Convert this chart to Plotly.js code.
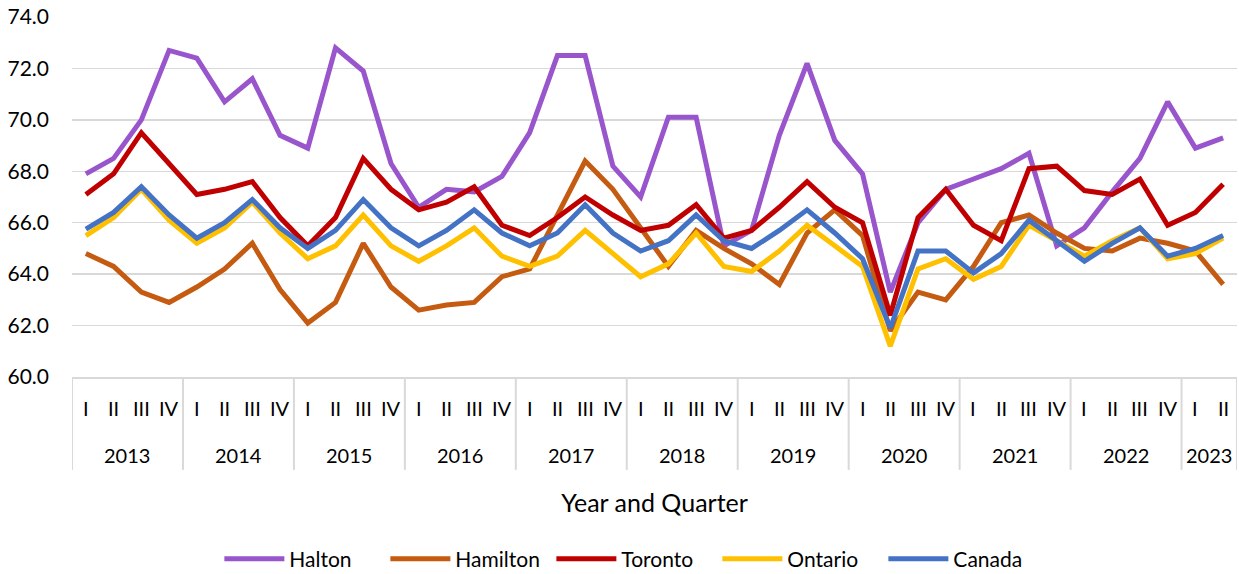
<!DOCTYPE html>
<html>
<head>
<meta charset="utf-8">
<script src="https://cdn.plot.ly/plotly-3.0.1.min.js"></script>
<style>html,body{margin:0;padding:0;background:#fff;}#chart{width:1239px;height:574px;}</style>
</head>
<body>
<div id="chart"></div>
<script>
var years = ["2013","2013","2013","2013","2014","2014","2014","2014","2015","2015","2015","2015",
  "2016","2016","2016","2016","2017","2017","2017","2017","2018","2018","2018","2018",
  "2019","2019","2019","2019","2020","2020","2020","2020","2021","2021","2021","2021",
  "2022","2022","2022","2022","2023","2023"];
var quarters = ["I","II","III","IV","I","II","III","IV","I","II","III","IV",
  "I","II","III","IV","I","II","III","IV","I","II","III","IV",
  "I","II","III","IV","I","II","III","IV","I","II","III","IV",
  "I","II","III","IV","I","II"];

var halton   = [67.9,68.5,70.0,72.7,72.4,70.7,71.6,69.4,68.9,72.8,71.9,68.3,66.6,67.3,67.2,67.8,69.5,72.5,72.5,68.2,67.0,70.1,70.1,65.1,65.7,69.4,72.2,69.2,67.9,63.3,66.0,67.3,67.7,68.1,68.7,65.1,65.8,67.2,68.5,70.7,68.9,69.3];
var hamilton = [64.8,64.3,63.3,62.9,63.5,64.2,65.2,63.4,62.1,62.9,65.2,63.5,62.6,62.8,62.9,63.9,64.2,66.3,68.4,67.3,65.8,64.3,65.7,65.0,64.4,63.6,65.6,66.5,65.5,61.8,63.3,63.0,64.3,66.0,66.3,65.6,65.0,64.9,65.4,65.2,64.9,63.6];
var toronto  = [67.1,67.9,69.5,68.3,67.1,67.3,67.6,66.2,65.1,66.2,68.5,67.3,66.5,66.8,67.4,65.9,65.5,66.2,67.0,66.3,65.7,65.9,66.7,65.4,65.7,66.6,67.6,66.6,66.0,62.4,66.2,67.3,65.9,65.3,68.1,68.2,67.25,67.1,67.7,65.9,66.4,67.5];
var ontario  = [65.5,66.2,67.3,66.1,65.2,65.8,66.8,65.6,64.6,65.1,66.3,65.1,64.5,65.1,65.8,64.7,64.3,64.7,65.7,64.8,63.9,64.4,65.6,64.3,64.1,64.9,65.9,65.1,64.3,61.2,64.2,64.6,63.8,64.3,65.9,65.3,64.7,65.3,65.8,64.6,64.8,65.4];
var canada   = [65.75,66.4,67.4,66.3,65.4,66.0,66.9,65.8,65.0,65.7,66.9,65.8,65.1,65.7,66.5,65.6,65.1,65.6,66.7,65.6,64.9,65.3,66.3,65.3,65.0,65.7,66.5,65.6,64.6,61.9,64.9,64.9,64.05,64.8,66.1,65.3,64.5,65.2,65.8,64.7,65.0,65.5];

var seriesNames = ["Halton","Hamilton","Toronto","Ontario","Canada"];
var seriesData = [halton, hamilton, toronto, ontario, canada];
var seriesColors = ["#9955CC","#C55A11","#C00000","#FFC000","#4472C4"];

// category index of each quarter (position on the category axis)
var xIdx = quarters.map(function(q, i){ return i; });

var traces = seriesNames.map(function(n, i){
  return {
    type: "scatter", mode: "lines", name: n,
    x: xIdx, y: seriesData[i],
    line: {color: seriesColors[i], width: 5},
    hoverinfo: "skip"
  };
});

var font = "Lato, 'Open Sans', sans-serif";
var gridCol = "#d9d9d9";

// two-level category axis labels: quarters, then year groups with dividers
var annotations = [];
var shapes = [];
quarters.forEach(function(q, i){
  annotations.push({xref: "x", yref: "paper", x: i, y: -0.086, text: q, showarrow: false,
    xanchor: "center", yanchor: "middle", font: {family: font, size: 20, color: "#000"}});
});
var groups = [];
years.forEach(function(y, i){
  if (!groups.length || groups[groups.length-1].year !== y) groups.push({year: y, start: i, end: i});
  else groups[groups.length-1].end = i;
});
groups.forEach(function(g){
  annotations.push({xref: "x", yref: "paper", x: (g.start + g.end)/2, y: -0.217, text: g.year, showarrow: false,
    xanchor: "center", yanchor: "middle", font: {family: font, size: 20, color: "#000"}});
  shapes.push({type: "line", xref: "x", yref: "paper", x0: g.start - 0.5, x1: g.start - 0.5, y0: 0, y1: -0.258,
    line: {color: gridCol, width: 2}});
});
var last = groups[groups.length-1];
shapes.push({type: "line", xref: "x", yref: "paper", x0: last.end + 0.5, x1: last.end + 0.5, y0: 0, y1: -0.258,
  line: {color: gridCol, width: 2}});

var layout = {
  width: 1239, height: 574,
  margin: {l: 72, r: 2, t: 17, b: 197, autoexpand: false},
  paper_bgcolor: "#fff", plot_bgcolor: "#fff",
  font: {family: font, size: 20, color: "#000"},
  showlegend: true,
  legend: {orientation: "h", x: 0.512, xanchor: "center", xref: "container",
           y: 0.026, yanchor: "middle", yref: "container",
           entrywidth: 91, entrywidthmode: "pixels",
           font: {family: font, size: 21, color: "#000"}, itemwidth: 60, traceorder: "normal"},
  xaxis: {
    type: "linear", range: [-0.5, quarters.length - 0.5], automargin: false,
    showgrid: false, zeroline: false, showticklabels: false, ticks: "",
    showline: true, linecolor: gridCol, linewidth: 2,
    title: {text: "Year and Quarter", font: {family: font, size: 25, color: "#000"}, standoff: 116}
  },
  yaxis: {
    range: [60, 74], dtick: 2, tickformat: ".1f", automargin: false,
    showgrid: true, gridcolor: gridCol, gridwidth: 1.5,
    zeroline: false, showline: false, ticks: "", ticklabelstandoff: 22,
    tickfont: {family: font, size: 21, color: "#000"}
  },
  annotations: annotations,
  shapes: shapes
};
Plotly.newPlot("chart", traces, layout, {displayModeBar: false, staticPlot: true});
</script>
</body>
</html>
